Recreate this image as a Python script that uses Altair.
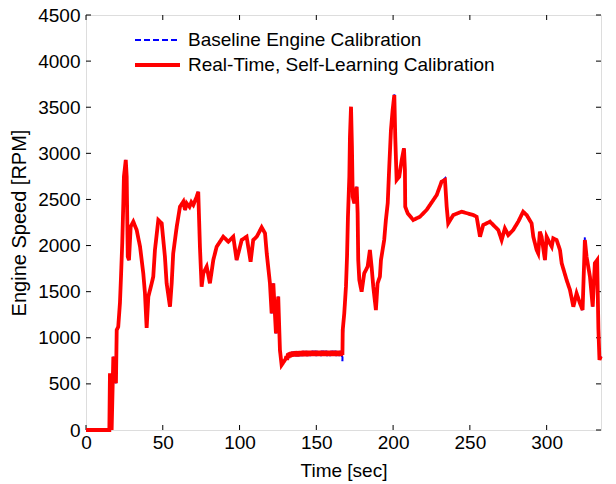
import altair as alt
import pandas as pd

SERIES = ["Baseline Engine Calibration", "Real-Time, Self-Learning Calibration"]
COLORS = ["#0000ff", "#ff0000"]

time_s = [
    0, 15.2, 15.6, 16.3, 16.7, 17.8, 18.9, 19.5, 20.0, 21.0, 22.1, 22.8, 23.6, 24.3, 24.7,
    25.9, 26.5, 27.2, 28.0, 29.1, 30.8, 33.0, 35.2, 37.3, 38.4, 39.5, 40.6, 42.8, 43.8, 44.9,
    47.1, 49.3, 51.4, 52.5, 54.7, 55.8, 56.8, 59.1, 61.2, 63.4, 64.5, 65.6, 67.4, 68.6, 69.9,
    72.1, 73.1,
    74.2, 75.3, 76.4, 78.6, 80.7, 82.9, 85.1, 89.4, 92.7, 95.9, 98.1, 101.4, 104.6, 107.2,
    108.9, 111.2, 114.4, 116.6, 117.7, 119.8, 120.9, 122.0, 123.7, 125.2, 126.3, 127.4, 130.0,
    130.5, 131.0, 131.5, 132.0, 132.5, 133.0, 133.5, 134.0, 134.5, 135.0, 135.5, 136.0,
    136.5, 137.0, 137.5, 138.0, 138.5, 139.0, 139.5, 140.0, 140.5, 141.0, 141.5, 142.0,
    142.5, 143.0, 143.5, 144.0, 144.5, 145.0, 145.5, 146.0, 146.5, 147.0, 147.5, 148.0,
    148.5, 149.0, 149.5, 150.0, 150.5, 151.0, 151.5, 152.0, 152.5, 153.0, 153.5, 154.0,
    154.5, 155.0, 155.5, 156.0, 156.5, 157.0, 157.5, 158.0, 158.5, 159.0, 159.5, 160.0,
    160.5, 161.0, 161.5, 162.0, 162.5, 163.0, 163.5, 164.0, 164.5, 165.0, 165.5, 166.0,
    166.5,
    167.0, 167.2, 168.2, 169.3, 170.0, 170.6, 171.5, 171.9, 172.6, 173.2, 173.7, 174.7, 176.3,
    176.9, 177.3, 178.0, 179.5, 181.2, 183.4, 184.9, 186.0, 187.1, 188.8, 189.9, 191.4, 192.1,
    194.2, 195.3, 196.5, 197.5, 198.6, 199.7, 200.8, 201.4, 202.3, 204.0, 205.6, 207.1, 207.7,
    207.9, 209.5, 213.1, 217.5, 221.8, 228.4, 231.6, 233.8, 234.9, 235.9, 239.2, 244.6, 252.2,
    254.4, 256.6, 258.7, 263.1, 266.3, 268.5, 270.7, 272.8, 275.0, 278.2, 281.5, 284.7, 287.0,
    290.2, 291.3, 293.5, 294.5, 295.6, 296.7, 298.9, 300.0, 302.1, 303.3, 304.3, 306.5, 308.7,
    309.8, 313.0, 315.2, 317.4, 319.5, 321.7, 323.4, 324.9, 326.0, 328.2, 330.0, 331.4, 332.9,
    333.7, 334.4, 335.3,
]

realtime_rpm = [
    0, 0, 615, 506, 0, 795, 686, 506, 1084, 1120, 1374, 1663, 2024, 2458, 2747,
    2928, 2747, 1879, 1843, 2205, 2259, 2169, 1988, 1700, 1482, 1106, 1446, 1591, 1663, 1952,
    2277, 2241, 1879, 1591, 1337, 1591, 1916, 2205, 2421, 2476, 2386, 2458, 2420, 2470, 2440,
    2530, 2584,
    1988, 1554, 1700, 1771, 1591, 1843, 1988, 2096, 2042, 2096, 1843, 2060, 2096, 1825,
    2060, 2096, 2198, 2133, 1916, 1591, 1265, 1591, 1048, 1446, 867, 705, 770,
    800, 760, 830, 780, 840, 790, 845, 795, 850, 800, 852, 798,
    855, 800, 852, 798, 855, 802, 856, 800, 855, 802, 858, 800,
    856, 802, 858, 800, 856, 804, 858, 802, 858, 804, 860, 802,
    858, 804, 860, 802, 858, 804, 860, 804, 858, 802, 860, 804,
    860, 802, 858, 804, 860, 802, 858, 804, 860, 802, 858, 804,
    860, 802, 858, 804, 860, 802, 858, 804, 860, 802, 858, 804,
    850,
    813, 1084, 1265, 1554, 1879, 2313, 2747, 3180, 3506, 3072, 2530, 2458, 2638,
    2350, 1843, 1627, 1500, 1699, 1771, 1952, 1771, 1554, 1301, 1591, 1663, 1843,
    2060, 2277, 2458, 2855, 3253, 3470, 3633, 3180, 2711, 2747, 2928, 3055, 2819,
    2421, 2350, 2277, 2313, 2386, 2548, 2693, 2711, 2421, 2241, 2331, 2367, 2331,
    2313, 2096, 2223, 2259, 2205, 2169, 2060, 2186, 2114, 2169, 2259, 2367, 2331,
    2241, 2096, 1952, 1916, 2150, 2096, 1843, 2096, 2024, 1988, 2078, 2060, 1952,
    1808, 1627, 1518, 1337, 1482, 1374, 1301, 2060, 1879, 1663, 1337, 1808, 1843,
    1100, 760, 800,
]

# baseline trace follows the real-time trace except where the blue dashes show
baseline_override = {126.3: 840, 167.0: 745, 167.2: 1000, 171.5: 2700, 172.6: 3480,
                     200.8: 3650, 233.8: 2730, 324.9: 2090}
baseline_rpm = [baseline_override.get(t, v) for t, v in zip(time_s, realtime_rpm)]

x_ticks = [0, 50, 100, 150, 200, 250, 300]
y_ticks = [0, 500, 1000, 1500, 2000, 2500, 3000, 3500, 4000, 4500]

rows = []
for i, (t, v) in enumerate(zip(time_s, baseline_rpm)):
    rows.append({"t": t, "rpm": v, "series": SERIES[0], "idx": i})
for i, (t, v) in enumerate(zip(time_s, realtime_rpm)):
    rows.append({"t": t, "rpm": v, "series": SERIES[1], "idx": i})
df = pd.DataFrame(rows)
xt = pd.DataFrame({"t": x_ticks})
yt = pd.DataFrame({"rpm": y_ticks})
leg_df = pd.DataFrame({"series": SERIES})

FONT = "Liberation Sans"
FS = 19
W, H = 515, 415
TL = 5

x_scale = alt.Scale(domain=[0, 335.4], nice=False, zero=False)
y_scale = alt.Scale(domain=[0, 4500], nice=False)

lines = alt.Chart(df).mark_line(interpolate="linear").encode(
    x=alt.X("t:Q", scale=x_scale, axis=alt.Axis(
        values=x_ticks, title="Time [sec]", domain=False, ticks=False, format="d",
        labelFont=FONT, labelFontSize=FS, labelColor="black",
        labelPadding=3, titleFont=FONT, titleFontSize=FS, titleFontWeight="normal",
        titleColor="black", titlePadding=9, grid=False, labelFlush=False)),
    y=alt.Y("rpm:Q", scale=y_scale, axis=alt.Axis(
        values=y_ticks, title="Engine Speed [RPM]", domain=False, ticks=False, format="d",
        labelFont=FONT, labelFontSize=FS, labelColor="black",
        labelPadding=6, titleFont=FONT, titleFontSize=20, titleFontWeight="normal",
        titleColor="black", titlePadding=8, grid=False, labelFlush=False)),
    color=alt.Color("series:N", scale=alt.Scale(domain=SERIES, range=COLORS), legend=None),
    strokeDash=alt.StrokeDash("series:N", scale=alt.Scale(domain=SERIES, range=[[6, 3], [1, 0]]),
                              legend=None),
    strokeWidth=alt.StrokeWidth("series:N", scale=alt.Scale(domain=SERIES, range=[2, 3.8]),
                                legend=None),
    order=alt.Order("idx:Q"),
)

tick_style = dict(color="black", strokeWidth=1)
xb = alt.Chart(xt).mark_rule(**tick_style).encode(
    x=alt.X("t:Q", scale=x_scale), y=alt.value(H), y2=alt.value(H - TL))
xtop = alt.Chart(xt).mark_rule(**tick_style).encode(
    x=alt.X("t:Q", scale=x_scale), y=alt.value(0), y2=alt.value(TL))
yl = alt.Chart(yt).mark_rule(**tick_style).encode(
    y=alt.Y("rpm:Q", scale=y_scale), x=alt.value(0), x2=alt.value(TL))
yr = alt.Chart(yt).mark_rule(**tick_style).encode(
    y=alt.Y("rpm:Q", scale=y_scale), x=alt.value(W), x2=alt.value(W - TL))

# legend (no box), drawn inside the plot at top-left
LEG_ROWS = [25, 50]
leg_layers = []
for i, s in enumerate(SERIES):
    base = alt.Chart(leg_df).transform_filter(alt.datum.series == s)
    sym = base.mark_rule(
        color=COLORS[i], strokeWidth=2 if i == 0 else 3.8,
        strokeDash=[6, 3] if i == 0 else [1, 0],
    ).encode(x=alt.value(49), x2=alt.value(94), y=alt.value(LEG_ROWS[i]))
    txt = base.mark_text(
        align="left", baseline="middle", font=FONT, fontSize=FS, color="black",
    ).encode(x=alt.value(102), y=alt.value(LEG_ROWS[i]), text="series:N")
    leg_layers += [sym, txt]

chart = alt.layer(xb, xtop, yl, yr, lines, *leg_layers).properties(
    width=W, height=H,
    autosize=alt.AutoSizeParams(type="none"),
    padding={"left": 86, "top": 15, "right": 15, "bottom": 54},
).configure_view(stroke="black", strokeWidth=1).configure(background="white")

chart.save("out.html", embed_options={"renderer": "svg", "actions": False})
